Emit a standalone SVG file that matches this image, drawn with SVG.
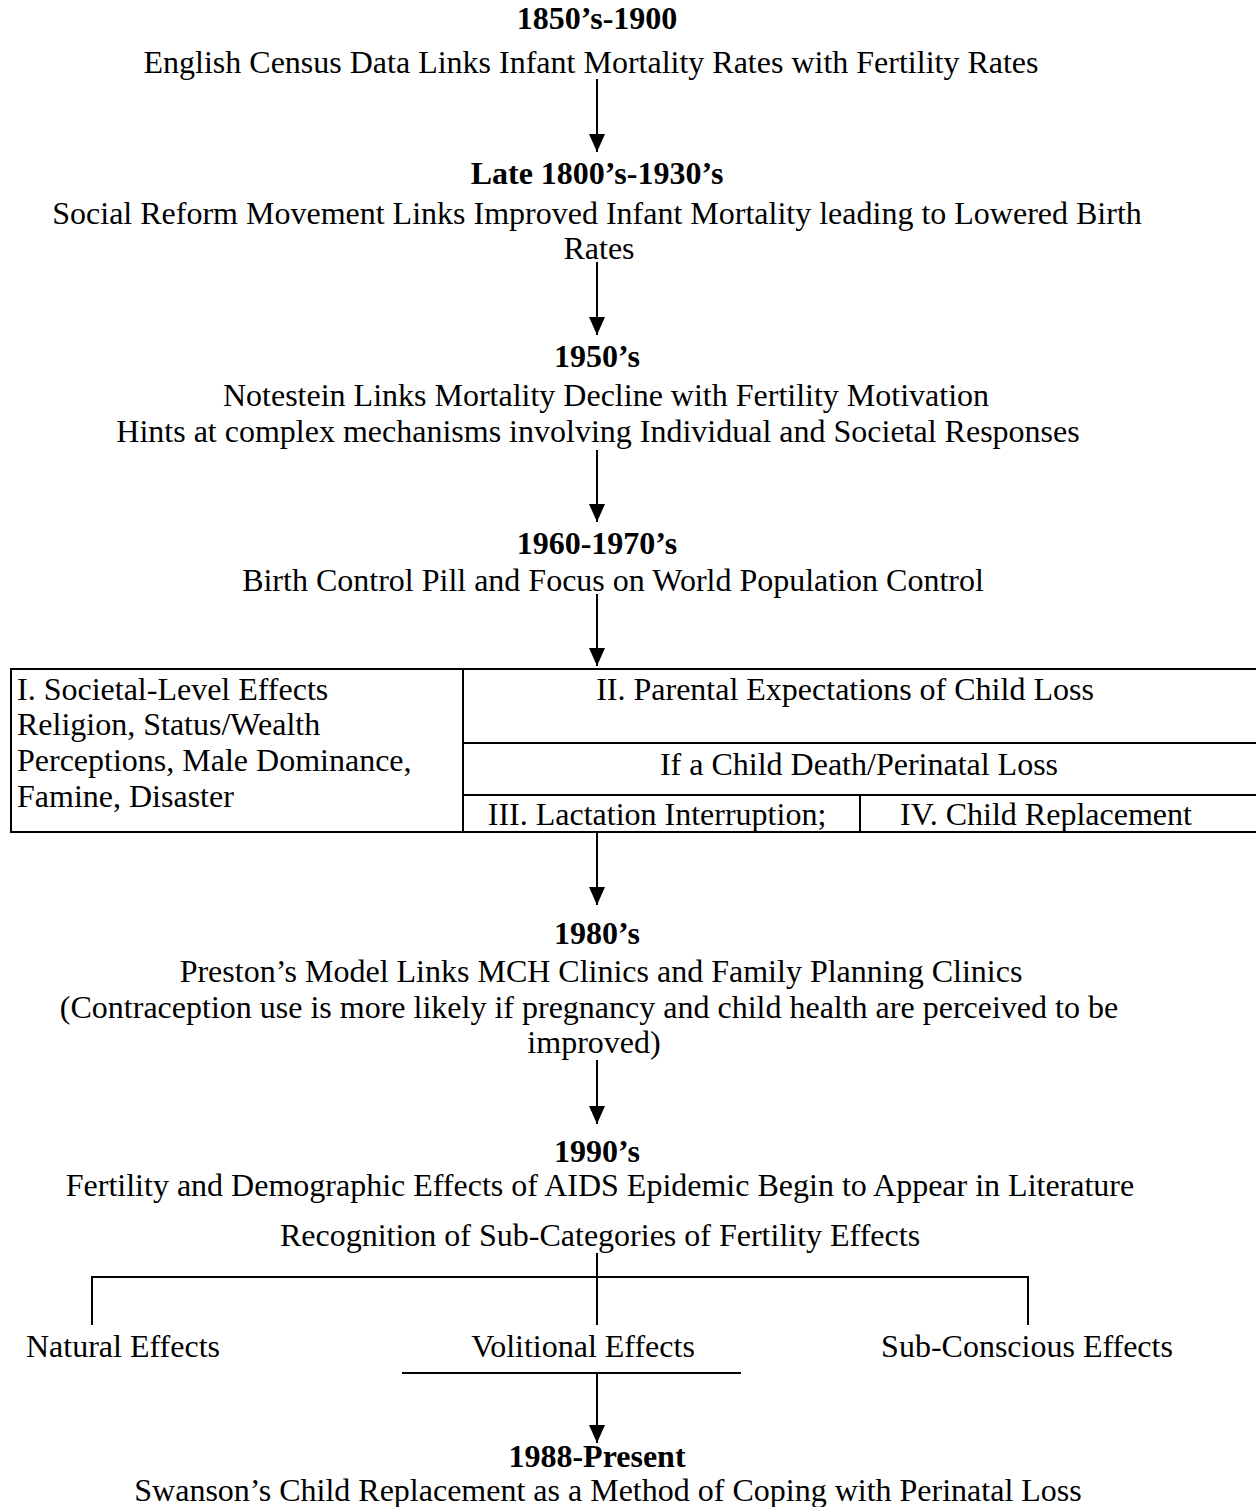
<svg xmlns="http://www.w3.org/2000/svg" width="1256" height="1507" viewBox="0 0 1256 1507">
<style>
text{font-family:"Liberation Serif","Times New Roman",serif;font-size:32px;fill:#000}
.b{font-weight:bold}
.c{text-anchor:middle}
.ln{stroke:#000;stroke-width:2;fill:none}
</style>
<defs>
<marker id="ah" markerWidth="18" markerHeight="16" refX="18" refY="8" orient="auto" markerUnits="userSpaceOnUse" viewBox="0 0 18 16">
<path d="M0,0 L18,8 L0,16 Z" fill="#000"/>
</marker>
</defs>
<rect width="1256" height="1507" fill="#fff"/>
<g id="n1"><text class="b c" x="597" y="29">1850’s-1900</text><text class="c" x="591" y="73">English Census Data Links Infant Mortality Rates with Fertility Rates</text></g>
<g id="n2"><text class="b c" x="597" y="184">Late 1800’s-1930’s</text><text class="c" x="597" y="224">Social Reform Movement Links Improved Infant Mortality leading to Lowered Birth</text><text class="c" x="599" y="259">Rates</text></g>
<g id="n3"><text class="b c" x="597" y="367">1950’s</text><text class="c" x="606" y="406">Notestein Links Mortality Decline with Fertility Motivation</text><text class="c" x="598" y="442">Hints at complex mechanisms involving Individual and Societal Responses</text></g>
<g id="n4"><text class="b c" x="597" y="554">1960-1970’s</text><text class="c" x="613" y="591">Birth Control Pill and Focus on World Population Control</text></g>
<g id="table">
<line class="ln" x1="10" y1="669" x2="1256" y2="669"/>
<line class="ln" x1="10" y1="832" x2="1256" y2="832"/>
<line class="ln" x1="11" y1="668" x2="11" y2="833"/>
<line class="ln" x1="463" y1="669" x2="463" y2="832"/>
<line class="ln" x1="463" y1="743" x2="1256" y2="743"/>
<line class="ln" x1="463" y1="795" x2="1256" y2="795"/>
<line class="ln" x1="860" y1="795" x2="860" y2="832"/>
<text x="17" y="700">I. Societal-Level Effects</text>
<text x="17" y="735">Religion, Status/Wealth</text>
<text x="17" y="771">Perceptions, Male Dominance,</text>
<text x="17" y="807">Famine, Disaster</text>
<text class="c" x="845" y="700">II. Parental Expectations of Child Loss</text>
<text class="c" x="859" y="775">If a Child Death/Perinatal Loss</text>
<text class="c" x="657" y="825">III. Lactation Interruption;</text>
<text class="c" x="1046" y="825">IV. Child Replacement</text>
</g>
<g id="n5"><text class="b c" x="597" y="944">1980’s</text><text class="c" x="601" y="982">Preston’s Model Links MCH Clinics and Family Planning Clinics</text><text class="c" x="589" y="1018">(Contraception use is more likely if pregnancy and child health are perceived to be</text><text class="c" x="594" y="1053">improved)</text></g>
<g id="n6"><text class="b c" x="597" y="1162">1990’s</text><text class="c" x="600" y="1196">Fertility and Demographic Effects of AIDS Epidemic Begin to Appear in Literature</text><text class="c" x="600" y="1246">Recognition of Sub-Categories of Fertility Effects</text></g>
<g id="n7"><text class="c" x="123" y="1357">Natural Effects</text></g>
<g id="n8"><text class="c" x="583" y="1357">Volitional Effects</text></g>
<g id="n9"><text class="c" x="1027" y="1357">Sub-Conscious Effects</text></g>
<g id="n10"><text class="b c" x="597" y="1467">1988-Present</text><text class="c" x="608" y="1501">Swanson’s Child Replacement as a Method of Coping with Perinatal Loss</text></g>
<g id="connectors">
<line class="ln" x1="597" y1="79" x2="597" y2="152" marker-end="url(#ah)"/>
<line class="ln" x1="597" y1="262" x2="597" y2="335" marker-end="url(#ah)"/>
<line class="ln" x1="597" y1="450" x2="597" y2="522" marker-end="url(#ah)"/>
<line class="ln" x1="597" y1="594" x2="597" y2="666" marker-end="url(#ah)"/>
<line class="ln" x1="597" y1="832" x2="597" y2="905" marker-end="url(#ah)"/>
<line class="ln" x1="597" y1="1060" x2="597" y2="1124" marker-end="url(#ah)"/>
<line class="ln" x1="597" y1="1253" x2="597" y2="1325"/>
<polyline class="ln" points="92,1325 92,1277 1028,1277 1028,1325"/>
<line class="ln" x1="402" y1="1373" x2="741" y2="1373"/>
<line class="ln" x1="597" y1="1373" x2="597" y2="1443" marker-end="url(#ah)"/>
</g>
</svg>
